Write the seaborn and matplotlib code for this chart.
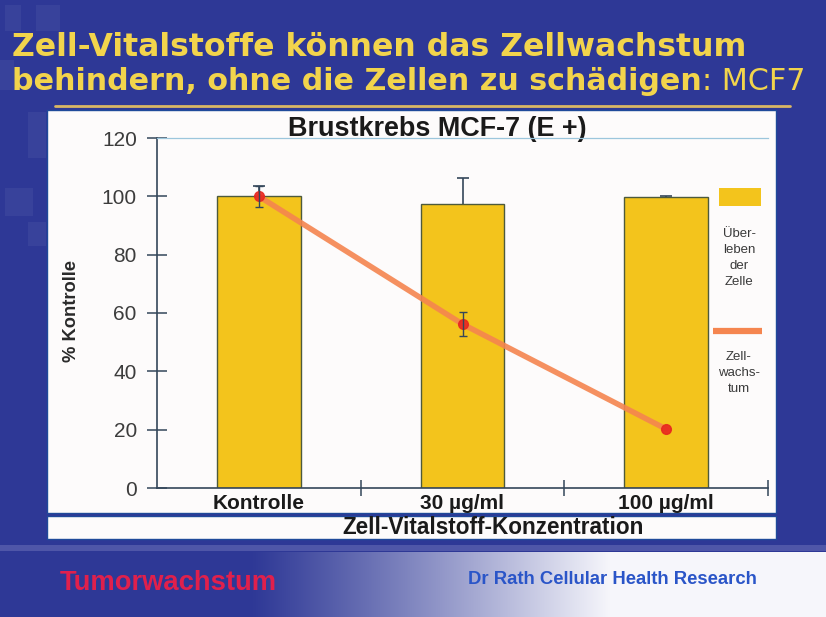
import numpy as np
import pandas as pd
import matplotlib
matplotlib.use("Agg")
import matplotlib.pyplot as plt
import seaborn as sns
from matplotlib.patches import Rectangle

# ---------------- data ----------------
categories = ["Kontrolle", "30 µg/ml", "100 µg/ml"]
survival = [100.0, 97.4, 99.8]
survival_err = [3.5, 9.0, 0.4]
growth = [100.0, 56.2, 20.2]
growth_err = [3.6, 4.0, 0.0]
yticks = [0, 20, 40, 60, 80, 100, 120]

title_line1 = "Zell-Vitalstoffe können das Zellwachstum"
title_line2 = "behindern, ohne die Zellen zu schädigen"
title_suffix = ": MCF7"
chart_title = "Brustkrebs MCF-7 (E +)"
x_label = "Zell-Vitalstoff-Konzentration"
y_label = "% Kontrolle"
legend_bar = "Über-\nleben\nder\nZelle"
legend_line = "Zell-\nwachs-\ntum"
footer_left = "Tumorwachstum"
footer_right = "Dr Rath Cellular Health Research"

# ---------------- style ----------------
sns.set_theme(style="white")
plt.rcParams['font.family'] = ['Liberation Sans', 'DejaVu Sans']

W, H = 826, 617
BLUE = '#2e3896'
BAR = '#f3c41c'
LINE = '#f5854f'
MARK = '#e8261f'
ERR = '#34465a'
YEL = '#f2d44c'

fig = plt.figure(figsize=(W / 100, H / 100), dpi=100)
fig.patch.set_facecolor(BLUE)
renderer = fig.canvas.get_renderer()

def fit(t, target, vertical=False):
    bb = t.get_window_extent(renderer)
    cur = bb.height if vertical else bb.width
    t.set_fontsize(t.get_fontsize() * target / cur)
    return t

# background axes in pixel coordinates
bg = fig.add_axes([0, 0, 1, 1])
bg.set_xlim(0, W)
bg.set_ylim(H, 0)
bg.axis('off')
bg.set_zorder(0)

# faint decorative squares top-left
for (x, y, w, h) in [(5, 5, 16, 26), (36, 5, 24, 26), (0, 60, 14, 30),
                     (28, 112, 18, 46), (5, 188, 28, 28), (28, 222, 18, 24)]:
    bg.add_patch(Rectangle((x, y), w, h, fc='white', alpha=0.05, lw=0))

# title underline
bg.plot([55, 790], [106, 106], color='#d9b664', lw=2)

# white panels
bg.add_patch(Rectangle((47, 110), 729, 403, fc='#fdfbfb', ec='#1f4a9a', lw=1.0))
bg.add_patch(Rectangle((47, 516), 729, 23, fc='#fdfbfb', ec='#1f4a9a', lw=1.0))

# bottom band
bg.add_patch(Rectangle((0, 545), W, 6, fc='#4f56a8', lw=0))
xs = np.linspace(0, W, W)
t = np.clip((xs - 250) / (610 - 250), 0, 1) ** 1.1
c0 = np.array(matplotlib.colors.to_rgb(BLUE))
c1 = np.array(matplotlib.colors.to_rgb('#f6f6fb'))
grad = (c0[None, :] * (1 - t[:, None]) + c1[None, :] * t[:, None])[None, :, :]
bg.imshow(grad, extent=(0, W, H, 552), aspect='auto', zorder=1)
bg.set_xlim(0, W)
bg.set_ylim(H, 0)

# slide title
TF = ['DejaVu Sans']
t1 = bg.text(12, 48, title_line1, color=YEL, fontsize=22, weight='bold',
             family=TF, ha='left', va='center')
fit(t1, 733)
t2 = bg.text(12, 81, title_line2, color=YEL, fontsize=22, family=TF,
             weight='bold', ha='left', va='center')
fit(t2, 688)
t3 = bg.text(702, 81, title_suffix, color=YEL, fontsize=t2.get_fontsize(),
             family=TF, ha='left', va='center')

# ---------------- chart ----------------
ax = fig.add_axes([157 / W, 1 - 488 / H, (768 - 157) / W, (488 - 138) / H])
ax.set_zorder(2)
ax.patch.set_alpha(0)

df = pd.DataFrame({"Konzentration": categories,
                   "Ueberleben": survival,
                   "Wachstum": growth})

sns.barplot(data=df, x="Konzentration", y="Ueberleben", color=BAR, saturation=1,
            width=0.41, edgecolor='#4d5a3c', linewidth=1, errorbar=None, ax=ax,
            zorder=2)
ax.errorbar(np.arange(len(categories)), survival, yerr=survival_err, fmt='none',
            ecolor=ERR, elinewidth=1.2, capsize=4, capthick=1.2, zorder=1)

n_before = len(ax.lines)
sns.pointplot(data=df, x="Konzentration", y="Wachstum", color=LINE, ax=ax,
              markers='o', linestyles='-', errorbar=None,
              linewidth=4, markersize=7)
for ln in ax.lines[n_before:]:
    ln.set_markerfacecolor(MARK)
    ln.set_markeredgecolor(MARK)
    ln.set_markeredgewidth(1)
    ln.set_zorder(3)
    ln.set_alpha(0.9)
idx = [i for i, e in enumerate(growth_err) if e > 0]
ax.errorbar(idx, [growth[i] for i in idx], yerr=[growth_err[i] for i in idx],
            fmt='none', ecolor=ERR, elinewidth=1.0, capsize=3, capthick=1.0,
            zorder=4)

ax.set_xlim(-0.5, 2.5)
ax.set_ylim(0, 120)
ax.set_yticks(yticks)
ax.set_yticklabels([str(v) for v in yticks])
ax.set_xlabel("")
ax.set_ylabel("")

ax.spines['right'].set_visible(False)
ax.spines['top'].set_color('#9cc6dc')
ax.spines['top'].set_linewidth(0.9)
for s in ['left', 'bottom']:
    ax.spines[s].set_color(ERR)
    ax.spines[s].set_linewidth(1.2)

ax.tick_params(axis='y', direction='inout', length=15, width=1.1, color=ERR,
               labelsize=15, labelcolor='#3c3c3c', pad=7, left=True)
ax.tick_params(axis='x', which='major', length=0, labelsize=15,
               labelcolor='#1a1a1a', pad=4, bottom=True)
ax.set_xticks([0.5, 1.5, 2.5], minor=True)
ax.tick_params(axis='x', which='minor', direction='inout', length=12, width=1.1,
               color=ERR, bottom=True)
for lbl in ax.get_xticklabels():
    lbl.set_fontweight('bold')

# chart title / axis labels
ct = bg.text(437, 129, chart_title, fontsize=16, weight='bold', color='#1a1a1a',
             ha='center', va='center')
fit(ct, 299)
xl = bg.text(493, 528, x_label, fontsize=14, weight='bold', color='#1a1a1a',
             ha='center', va='center')
fit(xl, 302)
yl = bg.text(72, 311, y_label, fontsize=13, weight='bold', color='#2a2a2a',
             ha='center', va='center', rotation=90)
fit(yl, 102, vertical=True)

# legend (drawn manually like the original)
bg.add_patch(Rectangle((719, 188), 42, 18, fc=BAR, lw=0, zorder=3))
bg.text(739, 258, legend_bar, fontsize=9.5, color='#3a3a3a', ha='center',
        va='center', linespacing=1.45, zorder=3)
bg.plot([713, 762], [331, 331], color=LINE, lw=4.5, zorder=3, solid_capstyle='butt')
bg.text(739, 373, legend_line, fontsize=9.5, color='#3a3a3a', ha='center',
        va='center', linespacing=1.45, zorder=3)

# footer
fl = bg.text(60, 583, footer_left, fontsize=19, weight='bold', color='#e0204c',
             ha='left', va='center', zorder=3)
fit(fl, 217)
fr = bg.text(468, 580, footer_right, fontsize=10, weight='bold', color='#2a55c8',
             ha='left', va='center', zorder=3)
fit(fr, 289)

fig.savefig("out.png", dpi=100, facecolor=fig.get_facecolor())
